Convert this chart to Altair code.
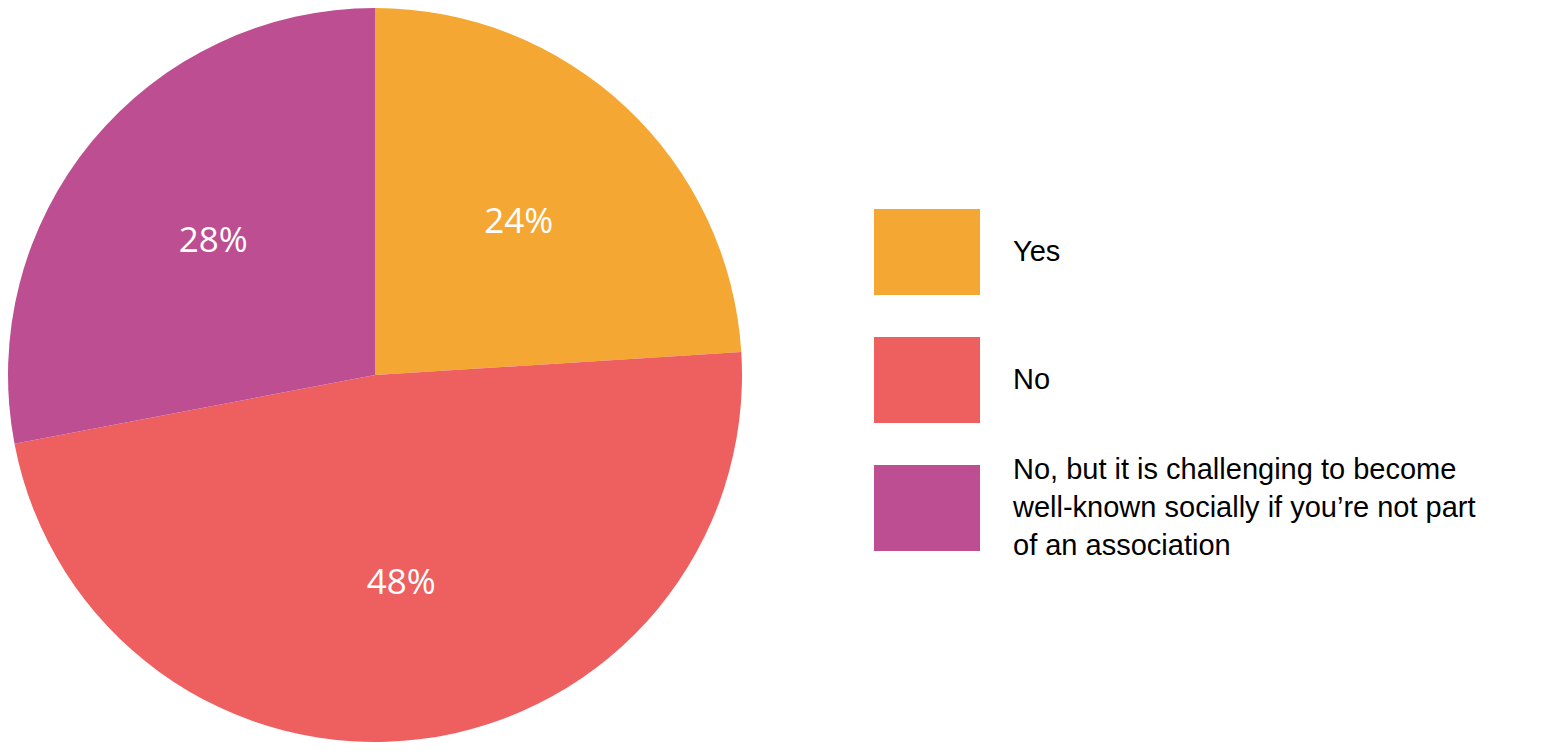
import altair as alt
import pandas as pd

# answers and their shares (percent)
answers = ["Yes", "No", "No, but it is challenging to become well-known socially if you\u2019re not part of an association"]
answer_lines = [
    ["Yes"],
    ["No"],
    ["No, but it is challenging to become", "well-known socially if you\u2019re not part", "of an association"],
]
shares = [24, 48, 28]
labels = ["24%", "48%", "28%"]
colors = ["#F5A733", "#EE5F5F", "#BD4E91"]

df = pd.DataFrame({
    "answer": answers,
    "lines": answer_lines,
    "share": shares,
    "label": labels,
    "idx": [0, 1, 2],
})

color_scale = alt.Scale(domain=answers, range=colors)

base = alt.Chart(df).encode(
    theta=alt.Theta("share:Q", stack=True),
    order=alt.Order("idx:O"),
)

pie = base.mark_arc(radius=367).encode(
    x=alt.value(367),
    y=alt.value(367),
    color=alt.Color("answer:N", scale=color_scale, legend=None),
)

text = base.mark_text(
    radius=210, font="Open Sans", fontSize=35, color="white"
).encode(
    x=alt.value(367),
    y=alt.value(367),
    text="label:N",
)

# hand-made legend: wide swatches with wrapped labels
legend_y = alt.Y("answer:N", sort=answers, axis=None,
                 scale=alt.Scale(type="point", range=[244, 500], padding=0))

swatch = alt.Chart(df).mark_point(
    shape="M-1.233,-1H1.233V1H-1.233Z", size=7396, filled=True, opacity=1
).encode(
    x=alt.value(919),
    y=legend_y,
    color=alt.Color("answer:N", scale=color_scale, legend=None),
)

legend_base = alt.Chart(df).transform_calculate(n="length(datum.lines)")

text_style = dict(align="left", baseline="middle", font="Liberation Sans",
                  fontSize=29, lineHeight=38, color="black")

legend_single = legend_base.transform_filter("datum.n == 1").mark_text(
    **text_style
).encode(x=alt.value(1005), y=legend_y, text="lines")

# three-line label, shifted up one line so it sits centred on its swatch
legend_multi = legend_base.transform_filter("datum.n > 1").mark_text(
    dy=-38, **text_style
).encode(x=alt.value(1005), y=legend_y, text="lines")

chart = (pie + text + swatch + legend_single + legend_multi).properties(
    width=1525, height=736, padding=0, autosize="none"
).configure_view(stroke=None)

chart.save("out.html", embed_options={"renderer": "svg", "actions": False})
